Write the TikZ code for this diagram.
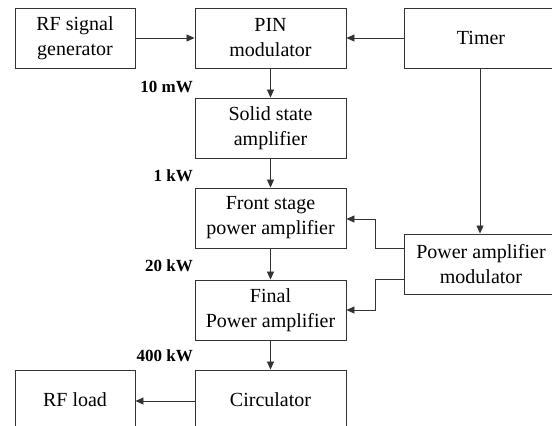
\documentclass[tikz,border=0pt]{standalone}
\usepackage{fontspec}
\setmainfont{Liberation Serif}
\usetikzlibrary{arrows.meta,calc}
\begin{document}
\begin{tikzpicture}[x=1pt,y=-1pt,
  blk/.style={draw=black!80,line width=0.9pt,inner sep=0pt,align=center,
    font=\fontsize{20}{25}\selectfont},
  pw/.style={anchor=east,font=\fontsize{17}{20}\selectfont\bfseries,inner sep=0pt},
  conn/.style={draw=black!80,line width=0.8pt,-{Triangle[length=8pt,width=7pt]}}]
\useasboundingbox (0,0) rectangle (552,426);
\node[blk,minimum width=120pt,minimum height=60pt] (gen) at (75,38) {RF signal\\generator};
\node[blk,minimum width=151pt,minimum height=60pt] (pin) at (270.5,38) {PIN\\modulator};
\node[blk,minimum width=154pt,minimum height=60pt] (timer) at (481,38) {Timer};
\node[blk,minimum width=151pt,minimum height=60pt] (ssa) at (270.5,128) {Solid state\\amplifier};
\node[blk,minimum width=151pt,minimum height=60pt] (front) at (270.5,218) {Front stage\\power amplifier};
\node[blk,minimum width=151pt,minimum height=60pt] (final) at (270.5,310) {Final\\Power amplifier};
\node[blk,minimum width=151pt,minimum height=60pt] (circ) at (270.5,400) {Circulator};
\node[blk,minimum width=120pt,minimum height=60pt] (load) at (75,400) {RF load};
\node[blk,minimum width=154pt,minimum height=60pt] (pam) at (481,264) {Power amplifier\\modulator};
\node[pw] (l1) at (193,87) {10 mW};
\node[pw] (l2) at (193,176) {1 kW};
\node[pw] (l3) at (193,266) {20 kW};
\node[pw] (l4) at (193,356) {400 kW};
\draw[conn] (gen) -- (pin);
\draw[conn] (timer) -- (pin);
\draw[conn] (pin) -- (ssa);
\draw[conn] (ssa) -- (front);
\draw[conn] (front) -- (final);
\draw[conn] (final) -- (circ);
\draw[conn] (circ.west |- 0,401) -- (load.east |- 0,401);
\draw[conn] (timer.south -| 480,0) -- (pam.north -| 480,0);
\coordinate (a1) at (375,248);
\coordinate (a2) at (375,279);
\draw[conn] (pam.west |- a1) -- (a1) -- (375,219) -- (front.east |- 0,219);
\draw[conn] (pam.west |- a2) -- (a2) -- (375,310) -- (final.east |- 0,310);
\end{tikzpicture}
\end{document}
